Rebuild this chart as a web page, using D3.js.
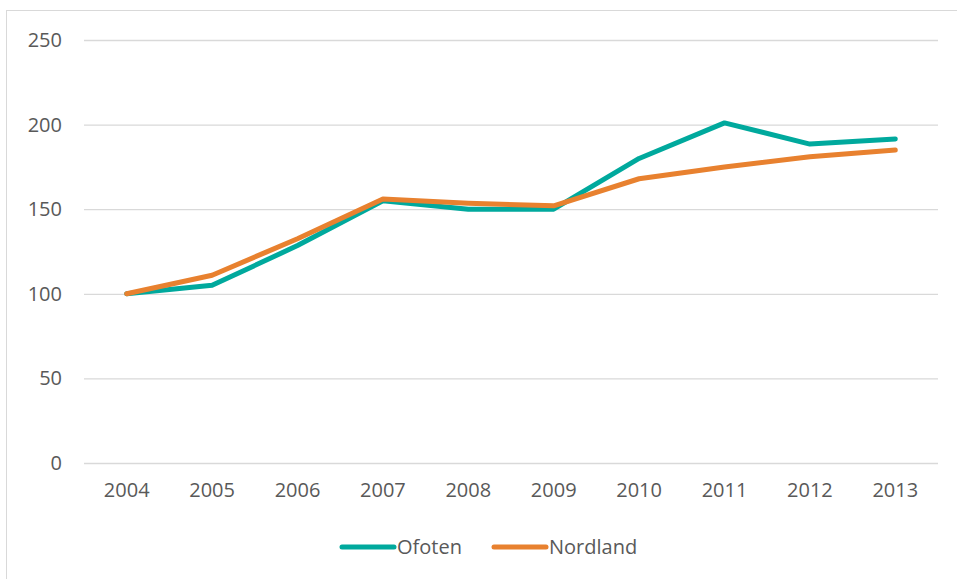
<!DOCTYPE html>
<html>

<head>
    <meta charset="UTF-8">
    <style>
        body { margin: 0; background: #fff; }
        text { font-family: "Open Sans", sans-serif; fill: #595959; }
    </style>
</head>

<body>
    <div id="chart"></div>

    <script src="https://d3js.org/d3.v7.min.js"></script>
    <script>

        // Data
        const years = ["2004", "2005", "2006", "2007", "2008", "2009", "2010", "2011", "2012", "2013"];
        const ofoten = [100, 105, 128.5, 155, 150, 150, 180, 201, 188.5, 191.5];
        const nordland = [100, 111, 132.5, 156, 153.5, 152, 168, 175, 181, 185];
        const yTicks = [0, 50, 100, 150, 200, 250];
        const seriesNames = ["Ofoten", "Nordland"];
        const colors = ["#00A99D", "#E8812F"];

        const W = 957, H = 579;
        const svg = d3.select("#chart").append("svg")
            .attr("width", W)
            .attr("height", H);

        // chart frame
        svg.append("rect")
            .attr("x", 6.5).attr("y", 10.5)
            .attr("width", 1000).attr("height", 1000)
            .attr("fill", "none")
            .attr("stroke", "#d9d9d9");

        const x = d3.scaleBand().domain(years).range([84, 938]);
        const y = d3.scaleLinear().domain([0, 250]).range([463, 40]);

        // gridlines + y labels
        const yAxis = svg.append("g")
            .attr("transform", "translate(84,0)")
            .call(d3.axisLeft(y).tickValues(yTicks).tickSize(-854).tickPadding(22));
        yAxis.select(".domain").remove();
        yAxis.selectAll(".tick line").attr("stroke", "#d9d9d9").attr("stroke-width", 1.3);
        yAxis.selectAll(".tick text").style("font-size", "20px").style("fill", "#595959");

        // x labels
        const xAxis = svg.append("g")
            .attr("transform", "translate(0,463)")
            .call(d3.axisBottom(x).tickSize(0).tickPadding(20));
        xAxis.select(".domain").remove();
        xAxis.selectAll(".tick text").style("font-size", "20px").style("fill", "#595959");

        const line = d3.line()
            .x((d, i) => x(years[i]) + x.bandwidth() / 2)
            .y(d => y(d));

        [ofoten, nordland].forEach((s, i) => {
            svg.append("path")
                .datum(s)
                .attr("d", line)
                .attr("fill", "none")
                .attr("stroke", colors[i])
                .attr("stroke-width", 5)
                .attr("stroke-linejoin", "round")
                .attr("stroke-linecap", "round");
        });

        // legend
        const legendX = [342, 494];
        const legend = svg.append("g");
        seriesNames.forEach((name, i) => {
            legend.append("line")
                .attr("x1", legendX[i]).attr("x2", legendX[i] + 52)
                .attr("y1", 547).attr("y2", 547)
                .attr("stroke", colors[i])
                .attr("stroke-width", 5)
                .attr("stroke-linecap", "round");
            legend.append("text")
                .attr("x", legendX[i] + 55)
                .attr("y", 554)
                .style("font-size", "20px")
                .text(name);
        });

    </script>
</body>

</html>
